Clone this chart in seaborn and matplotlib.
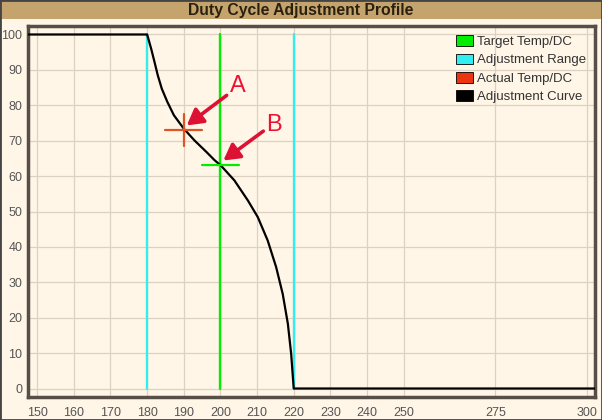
import matplotlib
matplotlib.use("Agg")
import matplotlib.pyplot as plt
from matplotlib.patches import Patch, Rectangle
import pandas as pd
import seaborn as sns

# adjustment curve
curve_temp = [140, 180, 181.1, 182.0, 182.9, 184.0, 185.5, 187.3, 190.0, 192.9, 196.1,
              198.4, 200.2, 203.8, 207.5, 210.2, 212.9, 215.2, 217.0, 218.4, 219.3,
              220, 310]
curve_dc = [100, 100, 96, 92.3, 88.5, 84.7, 81, 77.2, 73.4, 70.1, 66.9,
            64.5, 62.9, 58.8, 53.1, 48.4, 41.8, 34.3, 26.7, 18.3, 9.8,
            0, 0]

range_lo, range_hi = 180, 220
target_temp, target_dc = 200, 63
actual_temp, actual_dc = 190, 73

x_ticks = [150, 160, 170, 180, 190, 200, 210, 220, 230, 240, 250, 275, 300]
y_ticks = [0, 10, 20, 30, 40, 50, 60, 70, 80, 90, 100]

legend_labels = ["Target Temp/DC", "Adjustment Range", "Actual Temp/DC", "Adjustment Curve"]
legend_colors = ["#00ee00", "#33eeee", "#ee3311", "#000000"]

bg = "#fff6e7"
grid_c = "#ddd2c2"
frame_c = "#574f47"

sns.set_theme(style="whitegrid")
plt.rcParams["font.family"] = ["Liberation Sans", "DejaVu Sans"]

fig = plt.figure(figsize=(6.02, 4.2), dpi=100, facecolor=bg)
ax = fig.add_axes([28 / 602, 1 - 397 / 420, 567 / 602, 371 / 420])
ax.set_facecolor(bg)

df = pd.DataFrame({"temp": curve_temp, "dc": curve_dc})

# range and target lines
for xv in (range_lo, range_hi):
    ax.plot([xv, xv], [0, 100], color="#33eeee", lw=1.7, zorder=2)
ax.plot([target_temp, target_temp], [0, 100], color="#00ee00", lw=1.7, zorder=2)

sns.lineplot(data=df, x="temp", y="dc", color="black", lw=1.6, ax=ax,
             sort=False, estimator=None, zorder=3)

# actual point cross
ax.plot([actual_temp - 5, actual_temp + 5], [actual_dc, actual_dc], color="#dd5522", lw=1.6, zorder=4)
ax.plot([actual_temp, actual_temp], [actual_dc - 4.5, actual_dc + 4.5], color="#dd5522", lw=1.6, zorder=4)
# target marker
ax.plot([target_temp - 5, target_temp + 5], [target_dc, target_dc], color="#00ee00", lw=1.6, zorder=4)

# annotations
arrow = dict(arrowstyle="-|>,head_length=0.8,head_width=0.45", color="#dd1133",
             lw=2.6, shrinkA=0, shrinkB=0)
ax.annotate("", xy=(190.8, 74.3), xytext=(201.7, 82.8), arrowprops=arrow, zorder=5)
ax.annotate("", xy=(200.8, 64.4), xytext=(211.7, 72.7), arrowprops=arrow, zorder=5)
ax.text(204.8, 85.5, "A", color="#ee1133", fontsize=17, ha="center", va="center", zorder=5)
ax.text(214.6, 74.5, "B", color="#ee1133", fontsize=17, ha="center", va="center", zorder=5)

ax.set_xlim(147.5, 302.2)
ax.set_ylim(-2.4, 102.4)
ax.set_xticks(x_ticks)
ax.set_yticks(y_ticks)
ax.grid(True, color=grid_c, lw=0.9)
ax.tick_params(length=0, labelsize=9, labelcolor="#555555")
ax.tick_params(axis="x", pad=7)
ax.tick_params(axis="y", pad=4)
ax.set_xlabel("")
ax.set_ylabel("")
for s in ax.spines.values():
    s.set_visible(True)
    s.set_color(frame_c)
    s.set_linewidth(2.5)

handles = [Patch(facecolor=c, edgecolor="black", lw=0.6) for c in legend_colors]
ax.legend(handles, legend_labels, loc="upper right", frameon=False, fontsize=9.5,
          handlelength=1.3, handleheight=0.85, handletextpad=0.3, labelspacing=0.42,
          borderaxespad=0.3, labelcolor="#333333")

# title bar
fig.patches.append(Rectangle((0, 1 - 19 / 420), 1, 19 / 420, transform=fig.transFigure,
                             facecolor="#c4a46c", edgecolor="none", zorder=0))
fig.text(0.5, 1 - 10 / 420, "Duty Cycle Adjustment Profile", ha="center", va="center",
         fontsize=11.3, fontweight="bold", color="#2a2010")
fig.patches.append(Rectangle((0, 0), 1, 1, transform=fig.transFigure, facecolor="none",
                             edgecolor="#444444", lw=2, zorder=10))

fig.savefig("out.png", dpi=100, facecolor=bg)
